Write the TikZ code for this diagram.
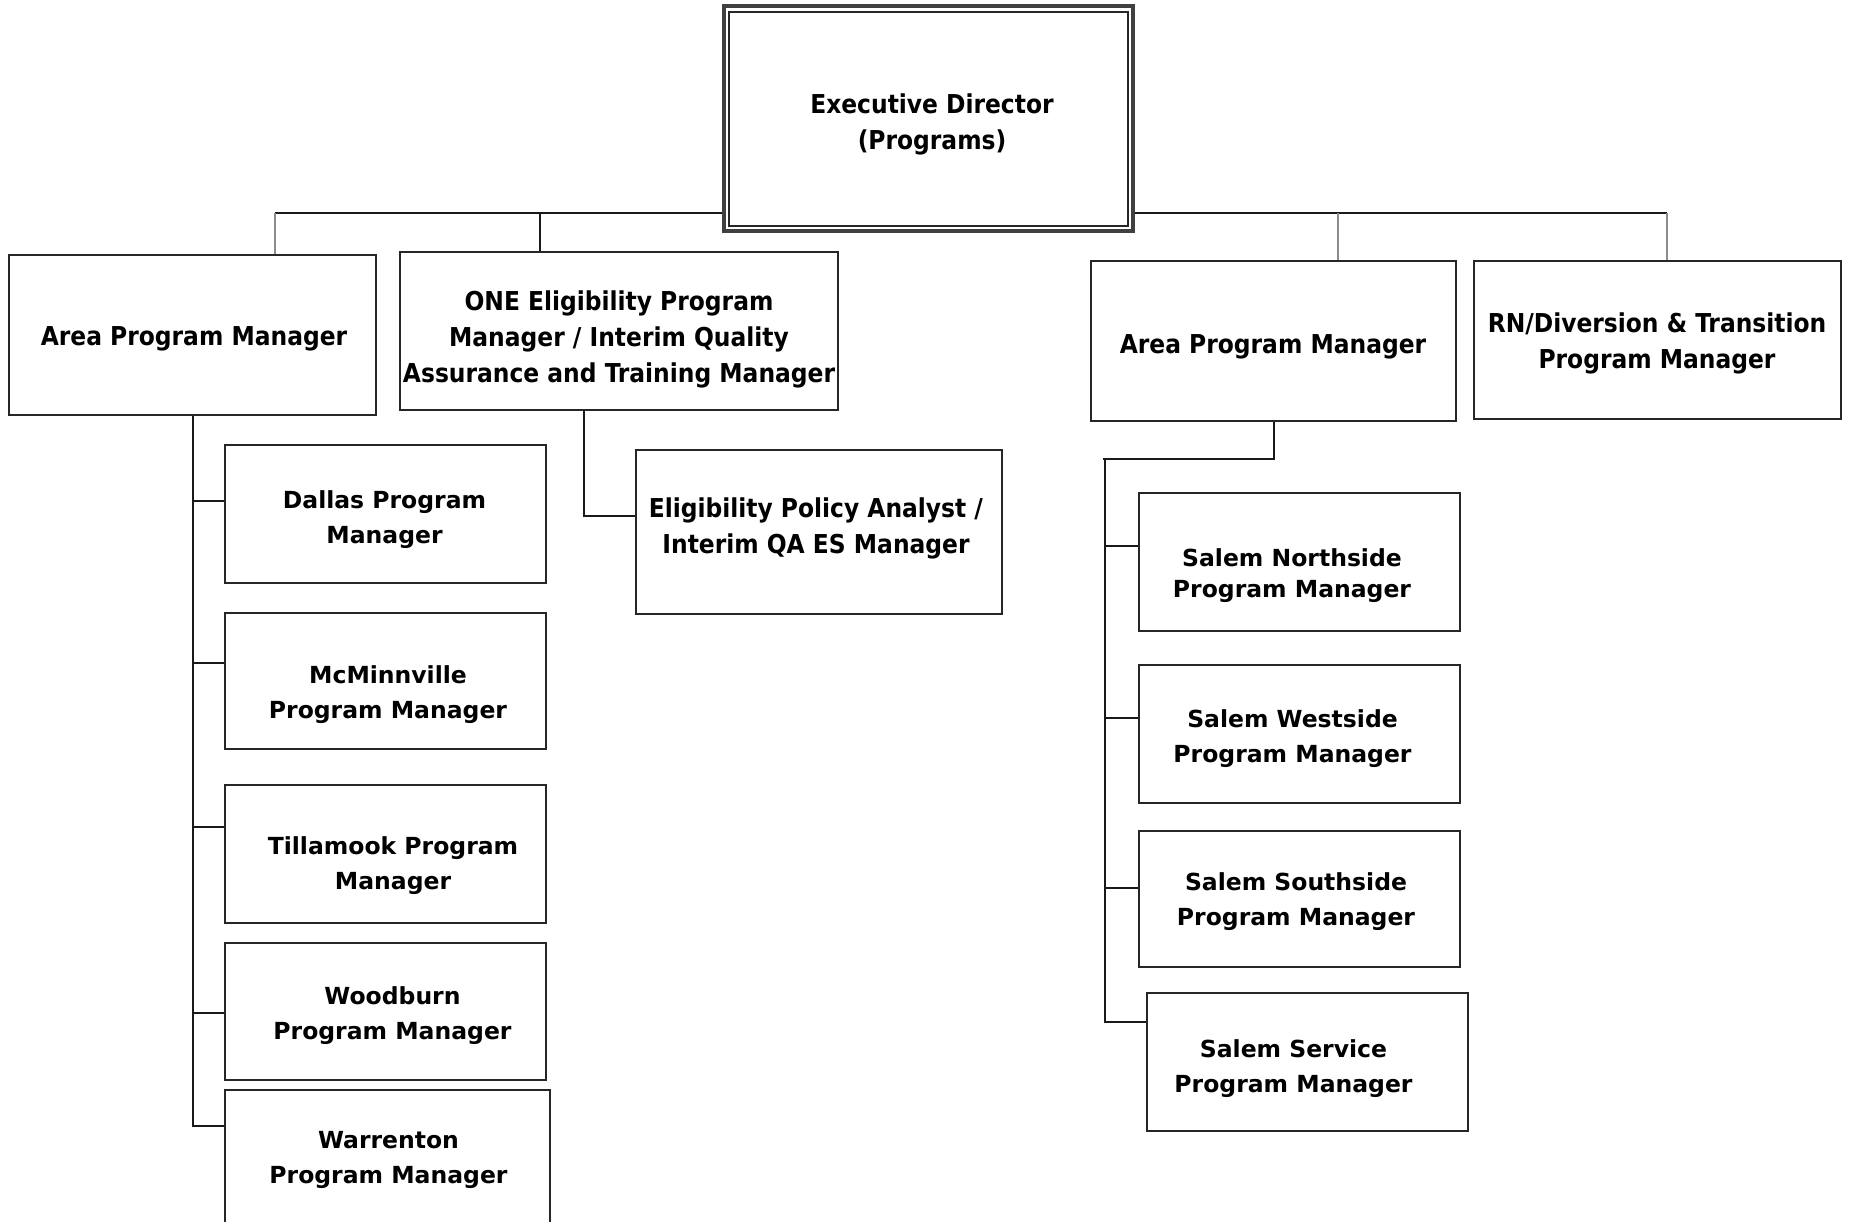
\documentclass[tikz,border=0pt]{standalone}
\usepackage{fontspec}
\setmainfont{DejaVu Sans}
\newfontfamily\wideb{DejaVu Sans Bold}
\newfontfamily\condb{DejaVu Sans Condensed Bold}
\begin{document}
\begin{tikzpicture}[x=1pt,y=-1pt,
  box/.style={draw=black!85, line width=2.3pt, fill=white, rectangle, inner sep=0pt},
  conn/.style={draw=black!90, line width=2pt},
  connlt/.style={draw=black!45, line width=2pt},
  wlbl/.style={align=center, font=\wideb\fontsize{23.5}{35}\selectfont, inner sep=0pt, yshift=-3.5pt},
  clbl/.style={align=center, font=\condb\fontsize{26}{36}\selectfont, inner sep=0pt, yshift=-3.5pt}]

\useasboundingbox[fill=white] (0,0) rectangle (1849,1221);

% ---- boxes ----
\node[box, line width=3.2pt, draw=black!75, minimum width=409, minimum height=225] (execO) at (928.5,118.5) {};
\node[box, line width=2.2pt, minimum width=399, minimum height=214] (execI) at (928.5,119) {};
\node[clbl] (exec-t) at (932,121) {Executive Director\\(Programs)};

\node[box, minimum width=367, minimum height=160] (apmL) at (192.5,335) {};
\node[clbl] (apmL-t) at (194,335) {Area Program Manager};

\node[box, minimum width=438, minimum height=158] (one) at (619,331) {};
\node[clbl] (one-t) at (619,336) {ONE Eligibility Program\\Manager / Interim Quality\\Assurance and Training Manager};

\node[box, minimum width=365, minimum height=160] (apmR) at (1273.5,341) {};
\node[clbl] (apmR-t) at (1273,343) {Area Program Manager};

\node[box, minimum width=367, minimum height=158] (rn) at (1657.5,340) {};
\node[clbl] (rn-t) at (1657,340) {RN/Diversion \& Transition\\Program Manager};

\node[box, minimum width=366, minimum height=164] (elig) at (819,532) {};
\node[clbl] (elig-t) at (816,525) {Eligibility Policy Analyst /\\Interim QA ES Manager};

\node[box, minimum width=321, minimum height=138] (dallas) at (385.5,514) {};
\node[wlbl] (dallas-t) at (384.5,516.5) {Dallas Program\\Manager};

\node[box, minimum width=321, minimum height=136] (mcm) at (385.5,681) {};
\node[wlbl] (mcm-t) at (388,691.5) {McMinnville\\Program Manager};

\node[box, minimum width=321, minimum height=138] (till) at (385.5,854) {};
\node[wlbl] (till-t) at (393,862.5) {Tillamook Program\\Manager};

\node[box, minimum width=321, minimum height=137] (wood) at (385.5,1011.5) {};
\node[wlbl] (wood-t) at (392.5,1012.5) {Woodburn\\Program Manager};

\node[box, minimum width=325, minimum height=150] (warr) at (387.5,1165) {};
\node[wlbl] (warr-t) at (388.5,1156) {Warrenton\\Program Manager};

\node[box, minimum width=321, minimum height=138] (sn) at (1299.5,562) {};
\node[wlbl, font=\wideb\fontsize{23.5}{31}\selectfont] (sn-t) at (1292,572) {Salem Northside\\Program Manager};

\node[box, minimum width=321, minimum height=138] (sw) at (1299.5,734) {};
\node[wlbl] (sw-t) at (1292.5,735) {Salem Westside\\Program Manager};

\node[box, minimum width=321, minimum height=136] (ss) at (1299.5,899) {};
\node[wlbl] (ss-t) at (1296,898.5) {Salem Southside\\Program Manager};

\node[box, minimum width=321, minimum height=138] (sv) at (1307.5,1062) {};
\node[wlbl] (sv-t) at (1293.5,1065) {Salem Service\\Program Manager};

% ---- top bus ----
\coordinate (busL) at (275,213);
\coordinate (busR) at (1667,213);
\coordinate (oneTap) at (540,213);
\coordinate (apmRTap) at (1338,213);
\draw[conn] (busL) -- (execO.west |- busL);
\draw[conn] (execO.east |- busR) -- (busR);
\draw[connlt] (busL) -- (busL |- apmL.north);
\draw[conn] (oneTap) -- (oneTap |- one.north);
\draw[connlt] (apmRTap) -- (apmRTap |- apmR.north);
\draw[connlt] (busR) -- (busR |- rn.north);

% ---- left area branch ----
\coordinate (dallas-in) at ([yshift=13pt]dallas.west);
\coordinate (mcm-in) at ([yshift=18pt]mcm.west);
\coordinate (till-in) at ([yshift=27pt]till.west);
\coordinate (wood-in) at ([yshift=-1.5pt]wood.west);
\coordinate (warr-in) at ([yshift=39pt]warr.west);
\draw[conn] (apmL.south) -- (apmL.south |- warr-in) -- (warr-in);
\foreach \c in {dallas-in, mcm-in, till-in, wood-in}
  \draw[conn] (apmL.south |- \c) -- (\c);

% ---- eligibility branch ----
\coordinate (oneDown) at ([xshift=-35pt]one.south);
\coordinate (elig-in) at ([yshift=16pt]elig.west);
\draw[conn] (oneDown) |- (elig-in);

% ---- right area branch ----
\coordinate (spineR) at (1105,459);
\coordinate (sn-in) at ([yshift=16pt]sn.west);
\coordinate (sw-in) at ([yshift=16pt]sw.west);
\coordinate (ss-in) at ([yshift=11pt]ss.west);
\coordinate (sv-in) at ([yshift=40pt]sv.west);
\draw[conn] (apmR.south) |- ([xshift=-2pt]spineR);
\draw[conn] (spineR) |- (sv-in);
\foreach \c in {sn-in, sw-in, ss-in}
  \draw[conn] (spineR |- \c) -- (\c);

\end{tikzpicture}
\end{document}
